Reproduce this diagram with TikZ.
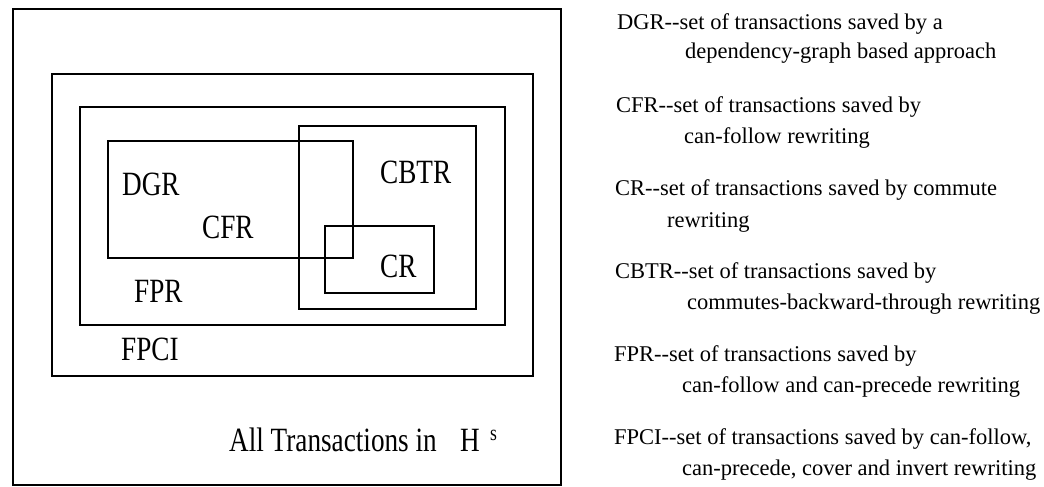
\documentclass[tikz,border=0pt]{standalone}
\usepackage{fontspec}
\setmainfont{Liberation Serif}
\newfontfamily\setlabelfont{Liberation Serif}[FakeStretch=0.8]
\begin{document}
\begin{tikzpicture}[x=1pt, y=-1pt,
  setbox/.style={draw=black, line width=1.8pt},
  lbl/.style={anchor=base west, inner sep=0pt, font=\setlabelfont\fontsize{34}{34}\selectfont},
  desc/.style={anchor=base west, inner sep=0pt, font=\fontsize{22.5}{27}\selectfont}]
\useasboundingbox (0,0) rectangle (1044,487);

% nested sets of saved transactions
\draw[setbox] (13,9)   rectangle (561,485); % all transactions
\draw[setbox] (52,74)  rectangle (533,376); % FPCI
\draw[setbox] (80,107) rectangle (505,325); % FPR
\draw[setbox] (299,126) rectangle (476,309); % CBTR
\draw[setbox] (108,141) rectangle (353,258); % DGR / CFR
\draw[setbox] (325,226) rectangle (434,293); % CR

% set labels
\node[lbl] (dgr)  at (122,195) {DGR};
\node[lbl] (cfr)  at (202,238) {CFR};
\node[lbl] (cbtr) at (380,183) {CBTR};
\node[lbl] (cr)   at (380,277) {CR};
\node[lbl] (fpr)  at (134,302) {FPR};
\node[lbl] (fpci) at (121,360) {FPCI};
\node[lbl] (all)  at (229,451) {All Transactions in};
\node[lbl] (hist) at (460,451) {H};
\node[anchor=base west, inner sep=0pt, font=\setlabelfont\fontsize{22}{22}\selectfont] (histsup) at (490,440) {s};

% legend
\node[desc] (d1a) at (617,30)  {DGR-{}-set of transactions saved by a};
\node[desc] (d1b) at (685,59)  {dependency-graph based approach};
\node[desc] (d2a) at (616,112) {CFR-{}-set of transactions saved by};
\node[desc] (d2b) at (684,143) {can-follow rewriting};
\node[desc] (d3a) at (615,195) {CR-{}-set of transactions saved by commute};
\node[desc] (d3b) at (667,227) {rewriting};
\node[desc] (d4a) at (615,278) {CBTR-{}-set of transactions saved by};
\node[desc] (d4b) at (687,309) {commutes-backward-through rewriting};
\node[desc] (d5a) at (614,361) {FPR-{}-set of transactions saved by};
\node[desc] (d5b) at (682,392) {can-follow and can-precede rewriting};
\node[desc] (d6a) at (614,444) {FPCI-{}-set of transactions saved by can-follow,};
\node[desc] (d6b) at (682,475) {can-precede, cover and invert rewriting};
\end{tikzpicture}
\end{document}
